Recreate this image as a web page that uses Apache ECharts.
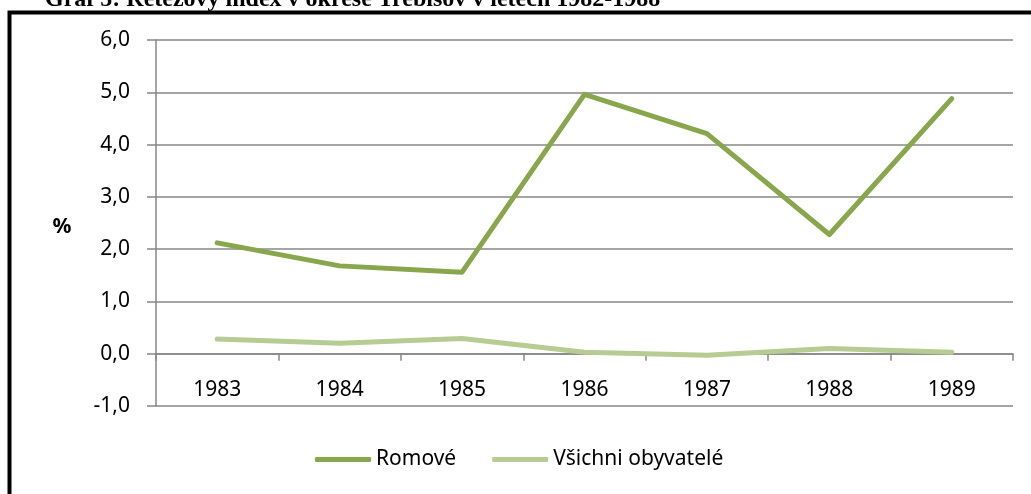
<!DOCTYPE html>
<html>
<head>
<meta charset="utf-8">
<script src="https://cdn.jsdelivr.net/npm/echarts@6/dist/echarts.min.js"></script>
<style>
  html, body { margin: 0; padding: 0; background: #fff; }
  #chart { width: 1031px; height: 494px; }
</style>
</head>
<body>
<div id="chart"></div>
<script>
// data
var years = ['1983', '1984', '1985', '1986', '1987', '1988', '1989'];
var romove = [2.12, 1.68, 1.56, 4.96, 4.21, 2.28, 4.88];
var vsichni = [0.28, 0.20, 0.29, 0.03, -0.03, 0.10, 0.03];
var seriesNames = ['Romové', 'Všichni obyvatelé'];

var labelFont = '"Noto Sans", sans-serif';
var gridGrey = '#878787';

var chart = echarts.init(document.getElementById('chart'), null, {renderer: 'canvas'});

chart.setOption({
  animation: false,
  backgroundColor: '#fff',
  graphic: [
    // title, cut by the top of the picture
    {type: 'text', x: 45, y: 12, z: 10,
      style: {text: 'Graf 5: Řetězový index v okrese Trebišov v letech 1982-1988',
        font: 'bold 24px "Liberation Serif", serif', fill: '#000', verticalAlign: 'bottom'}},
    // black frame going off the right and bottom
    {type: 'rect', shape: {x: 9.5, y: 12.5, width: 1040, height: 500},
      style: {fill: 'none', stroke: '#000', lineWidth: 4}, z: 10},
    // unit label of the value axis
    {type: 'text', x: 62, y: 227,
      style: {text: '%', font: 'bold 21px "Noto Sans", sans-serif', fill: '#000',
        align: 'center', verticalAlign: 'middle'}}
  ],
  grid: {left: 156, right: 18, top: 40, bottom: 88},
  legend: {
    data: seriesNames,
    left: 310, top: 444,
    icon: 'roundRect',
    itemWidth: 56, itemHeight: 5, itemGap: 36,
    textStyle: {fontFamily: labelFont, fontSize: 21, color: '#000'}
  },
  xAxis: {
    type: 'category',
    data: years,
    boundaryGap: true,
    axisLine: {onZero: true, lineStyle: {color: gridGrey, width: 1.5}},
    axisTick: {show: true, length: 7, lineStyle: {color: gridGrey, width: 1.5}},
    // labels sit between the zero line and -1,0
    axisLabel: {fontFamily: labelFont, fontSize: 21, color: '#000', margin: -26},
    splitLine: {show: false}
  },
  yAxis: {
    type: 'value',
    min: -1, max: 6, interval: 1,
    axisLine: {show: true, lineStyle: {color: gridGrey, width: 1.5}},
    axisTick: {show: true, length: 9, lineStyle: {color: gridGrey, width: 1.5}},
    axisLabel: {fontFamily: labelFont, fontSize: 21, color: '#000', margin: 26,
      formatter: function (v) { return v.toFixed(1).replace('.', ','); }},
    splitLine: {show: true, lineStyle: {color: gridGrey, width: 1.5}}
  },
  series: [
    {name: seriesNames[0], type: 'line', data: romove, showSymbol: false, symbol: 'none',
      color: '#88a64c', lineStyle: {width: 5, cap: 'round', join: 'round'}},
    {name: seriesNames[1], type: 'line', data: vsichni, showSymbol: false, symbol: 'none',
      color: '#b6cc93', lineStyle: {width: 5, cap: 'round', join: 'round'}}
  ]
});
</script>
</body>
</html>
